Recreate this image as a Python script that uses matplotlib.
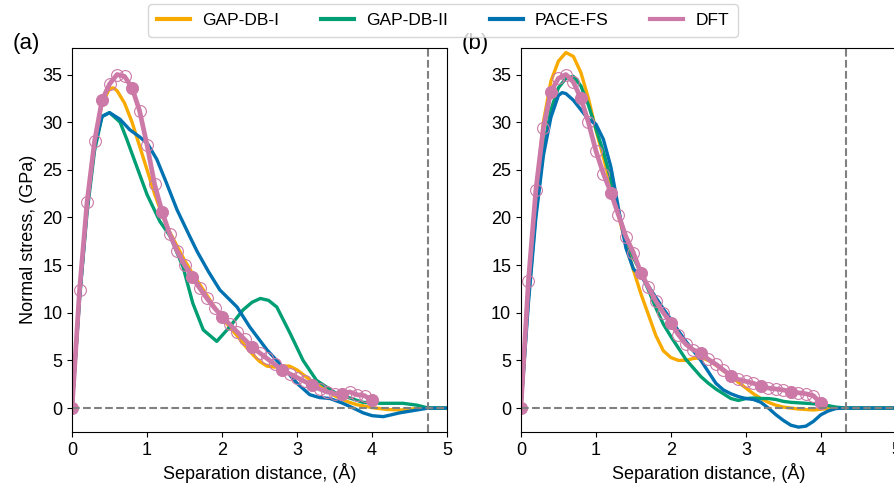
import matplotlib
matplotlib.use('Agg')
import matplotlib.pyplot as plt
from matplotlib.lines import Line2D

plt.rcParams['font.family'] = ['Liberation Sans', 'DejaVu Sans']

# ---- panel (a) data ----
dft_x = [round(0.1 * i, 1) for i in range(41)]
dft_a = [0, 12.4, 21.6, 28.0, 32.3, 34.0, 35.0, 34.8, 33.6, 31.2,
         27.6, 23.5, 20.6, 18.3, 16.5, 15.0, 13.8, 12.6, 11.5, 10.5,
         9.6, 8.8, 8.0, 7.2, 6.4, 5.8, 5.2, 4.6, 4.0, 3.6,
         3.2, 2.8, 2.4, 2.0, 1.7, 1.5, 1.5, 1.7, 1.4, 1.3, 0.8]

gap1_a_x = [0, 0.1, 0.2, 0.3, 0.4, 0.5, 0.55, 0.6, 0.7, 0.8, 0.9, 1.0, 1.1, 1.2, 1.3, 1.4,
            1.5, 1.6, 1.7, 1.8, 1.9, 2.0, 2.1, 2.2, 2.3, 2.4, 2.5, 2.6, 2.7, 2.8, 2.9,
            3.0, 3.1, 3.2, 3.3, 3.4, 3.5, 3.6, 3.7, 3.8, 3.9, 4.0, 4.2, 4.4, 4.6, 4.75, 5.0]
gap1_a = [0, 12, 21.5, 28, 32, 33.5, 33.6, 33.3, 32, 30, 27.5, 25, 22.5, 20.3, 18.5, 17,
          15.5, 14.2, 13, 11.8, 10.6, 9.5, 8.5, 7.6, 6.6, 5.7, 4.9, 4.4, 4.3, 4.4, 4.4,
          4.0, 3.4, 2.8, 2.3, 1.8, 1.3, 0.9, 0.6, 0.35, 0.2, 0.05, -0.15, -0.2, -0.05, 0, 0]

gap2_a_x = [0, 0.1, 0.2, 0.3, 0.4, 0.5, 0.64, 0.73, 0.86, 1.0, 1.17, 1.31, 1.48, 1.61, 1.75,
            1.93, 2.1, 2.28, 2.4, 2.51, 2.62, 2.73, 2.91, 3.08, 3.26, 3.53, 3.88, 4.1, 4.41,
            4.6, 4.75, 5.0]
gap2_a = [0, 11.5, 20.5, 27, 30.6, 31, 30, 28.2, 25.4, 22.4, 19.6, 18.0, 14.8, 11, 8.2,
          7.0, 8.5, 10.3, 11.1, 11.5, 11.3, 10.6, 7.8, 5.0, 2.9, 1.5, 0.6, 0.5, 0.5,
          0.3, 0, 0]

pace_a_x = [0, 0.1, 0.2, 0.3, 0.4, 0.5, 0.64, 0.77, 0.91, 1.01, 1.13, 1.26, 1.4, 1.57, 1.67,
            1.82, 1.97, 2.2, 2.37, 2.6, 2.81, 3.0, 3.17, 3.3, 3.44, 3.61, 3.75, 3.88, 4.0,
            4.15, 4.37, 4.6, 4.75, 5.0]
pace_a = [0, 11.5, 21, 27.5, 30.6, 31, 30.3, 29.2, 28.4, 27.7, 26.1, 23.6, 20.8, 18, 16.4,
          14.3, 12.4, 10.6, 8.5, 6.1, 4.3, 2.6, 1.4, 1.1, 1.0, 0.5, 0.0, -0.5, -0.8,
          -0.9, -0.5, -0.2, 0, 0]

# ---- panel (b) data ----
dft_b = [0, 13.3, 22.9, 29.4, 33.2, 34.6, 35.0, 34.2, 32.5, 30.0,
         27.0, 24.6, 22.6, 20.3, 18.0, 16.3, 14.2, 12.7, 11.2, 10.0,
         8.9, 7.7, 6.7, 6.1, 5.8, 5.1, 4.6, 4.0, 3.4, 3.0,
         2.8, 2.6, 2.3, 2.1, 2.0, 1.9, 1.7, 1.6, 1.5, 1.3, 0.5]

gap1_b_x = [0, 0.1, 0.2, 0.3, 0.4, 0.5, 0.6, 0.7, 0.8, 0.9, 1.0, 1.1, 1.2, 1.3, 1.4, 1.5,
            1.6, 1.7, 1.8, 1.9, 2.0, 2.1, 2.2, 2.3, 2.4, 2.5, 2.6, 2.7, 2.8, 2.9, 3.0,
            3.1, 3.2, 3.3, 3.4, 3.5, 3.7, 3.9, 4.1, 4.33, 5.0]
gap1_b = [0, 12.5, 22.5, 30, 34.3, 36.4, 37.3, 36.9, 35.2, 32.5, 29.2, 26.3, 23.3, 20.2, 17.3, 14.5,
          12.0, 9.8, 7.6, 6.0, 5.3, 5.0, 5.0, 5.2, 5.3, 5.0, 4.5, 3.9, 3.3, 2.7, 2.1,
          1.5, 1.0, 0.6, 0.3, 0.1, -0.1, -0.2, -0.05, 0, 0]

gap2_b_x = [0, 0.1, 0.2, 0.3, 0.4, 0.5, 0.6, 0.7, 0.8, 0.9, 1.0, 1.1, 1.2, 1.3, 1.4, 1.5,
            1.6, 1.7, 1.8, 1.9, 2.0, 2.1, 2.2, 2.3, 2.4, 2.5, 2.6, 2.7, 2.8, 2.9, 3.0,
            3.1, 3.2, 3.3, 3.4, 3.5, 3.6, 3.8, 4.0, 4.2, 4.33, 5.0]
gap2_b = [0, 11.5, 20.5, 27, 31.3, 33.6, 34.6, 34.8, 33.8, 31.8, 29.3, 26.9, 24.0, 20.6, 17.8, 15.8,
          14.2, 12.4, 10.5, 8.8, 7.5, 6.3, 5.1, 4.2, 3.3, 2.6, 2.0, 1.5, 1.0, 0.8, 1.0,
          1.05, 1.0, 1.0, 0.9, 0.7, 0.6, 0.5, 0.4, 0.1, 0, 0]

pace_b_x = [0, 0.1, 0.2, 0.3, 0.4, 0.5, 0.55, 0.6, 0.7, 0.8, 0.9, 1.0, 1.1, 1.2, 1.3, 1.4,
            1.5, 1.6, 1.7, 1.8, 1.9, 2.0, 2.1, 2.2, 2.3, 2.4, 2.5, 2.6, 2.7, 2.8, 2.9,
            3.0, 3.1, 3.2, 3.3, 3.4, 3.5, 3.6, 3.7, 3.8, 3.9, 4.0, 4.1, 4.2, 4.33, 5.0]
pace_b = [0, 11, 20, 26.5, 30.5, 32.8, 33.1, 33, 32.3, 31.3, 30.3, 29.8, 28.2, 25.3, 21, 16.8,
          14.6, 13.8, 12.8, 11.6, 10.4, 9.3, 8.1, 7.0, 6.0, 5.0, 3.8, 2.6, 1.9, 1.5, 1.2,
          1.0, 0.9, 0.6, 0.0, -0.7, -1.3, -1.8, -2.0, -1.9, -1.4, -0.7, -0.3, -0.05, 0, 0]

cutoff = [4.75, 4.33]
panel_labels = ['(a)', '(b)']
names = ['GAP-DB-I', 'GAP-DB-II', 'PACE-FS', 'DFT']
colors = ['#F8AA00', '#009E73', '#0072B2', '#CC79A7']

panels = [
    (gap1_a_x, gap1_a, gap2_a_x, gap2_a, pace_a_x, pace_a, dft_a),
    (gap1_b_x, gap1_b, gap2_b_x, gap2_b, pace_b_x, pace_b, dft_b),
]

fig = plt.figure(figsize=(8.95, 4.88), dpi=100)
ax_a = fig.add_axes([0.0805, 0.115, 0.419, 0.787])
ax_b = fig.add_axes([0.582, 0.115, 0.419, 0.787])

for i, ax in enumerate([ax_a, ax_b]):
    g1x, g1, g2x, g2, px, p, d = panels[i]
    ax.plot(g1x, g1, color=colors[0], lw=2.4)
    ax.plot(g2x, g2, color=colors[1], lw=2.4)
    ax.plot(px, p, color=colors[2], lw=2.4)
    ax.plot(dft_x, d, color=colors[3], lw=3.4)
    # open circles at every point, filled at every 0.4
    ax.plot(dft_x, d, 'o', ms=8.5, mfc='none', mec=colors[3], mew=0.8)
    ax.plot(dft_x[::4], d[::4], 'o', ms=8, color=colors[3])

    ax.axhline(0, color='gray', ls='--', lw=1.5)
    ax.axvline(cutoff[i], color='gray', ls='--', lw=1.5)

    ax.set_xlim(0, 5)
    ax.set_ylim(-2.5, 37.8)
    ax.set_xticks([0, 1, 2, 3, 4, 5])
    ax.set_yticks([0, 5, 10, 15, 20, 25, 30, 35])
    ax.tick_params(labelsize=13)
    ax.set_xlabel('Separation distance, (Å)', fontsize=13, labelpad=3)
    ax.text(-0.123, 1.01, panel_labels[i], transform=ax.transAxes, fontsize=16,
            ha='center', va='center')

ax_a.set_ylabel('Normal stress, (GPa)', fontsize=13)

handles = [Line2D([], [], color=c, lw=3) for c in colors]
fig.legend(handles, names, loc='upper center', bbox_to_anchor=(0.495, 1.0), ncol=4,
           fontsize=12.5, frameon=True, handlelength=1.9, handletextpad=0.7,
           columnspacing=2.4, borderpad=0.5, borderaxespad=0.25)

fig.savefig('out.png', dpi=100)
